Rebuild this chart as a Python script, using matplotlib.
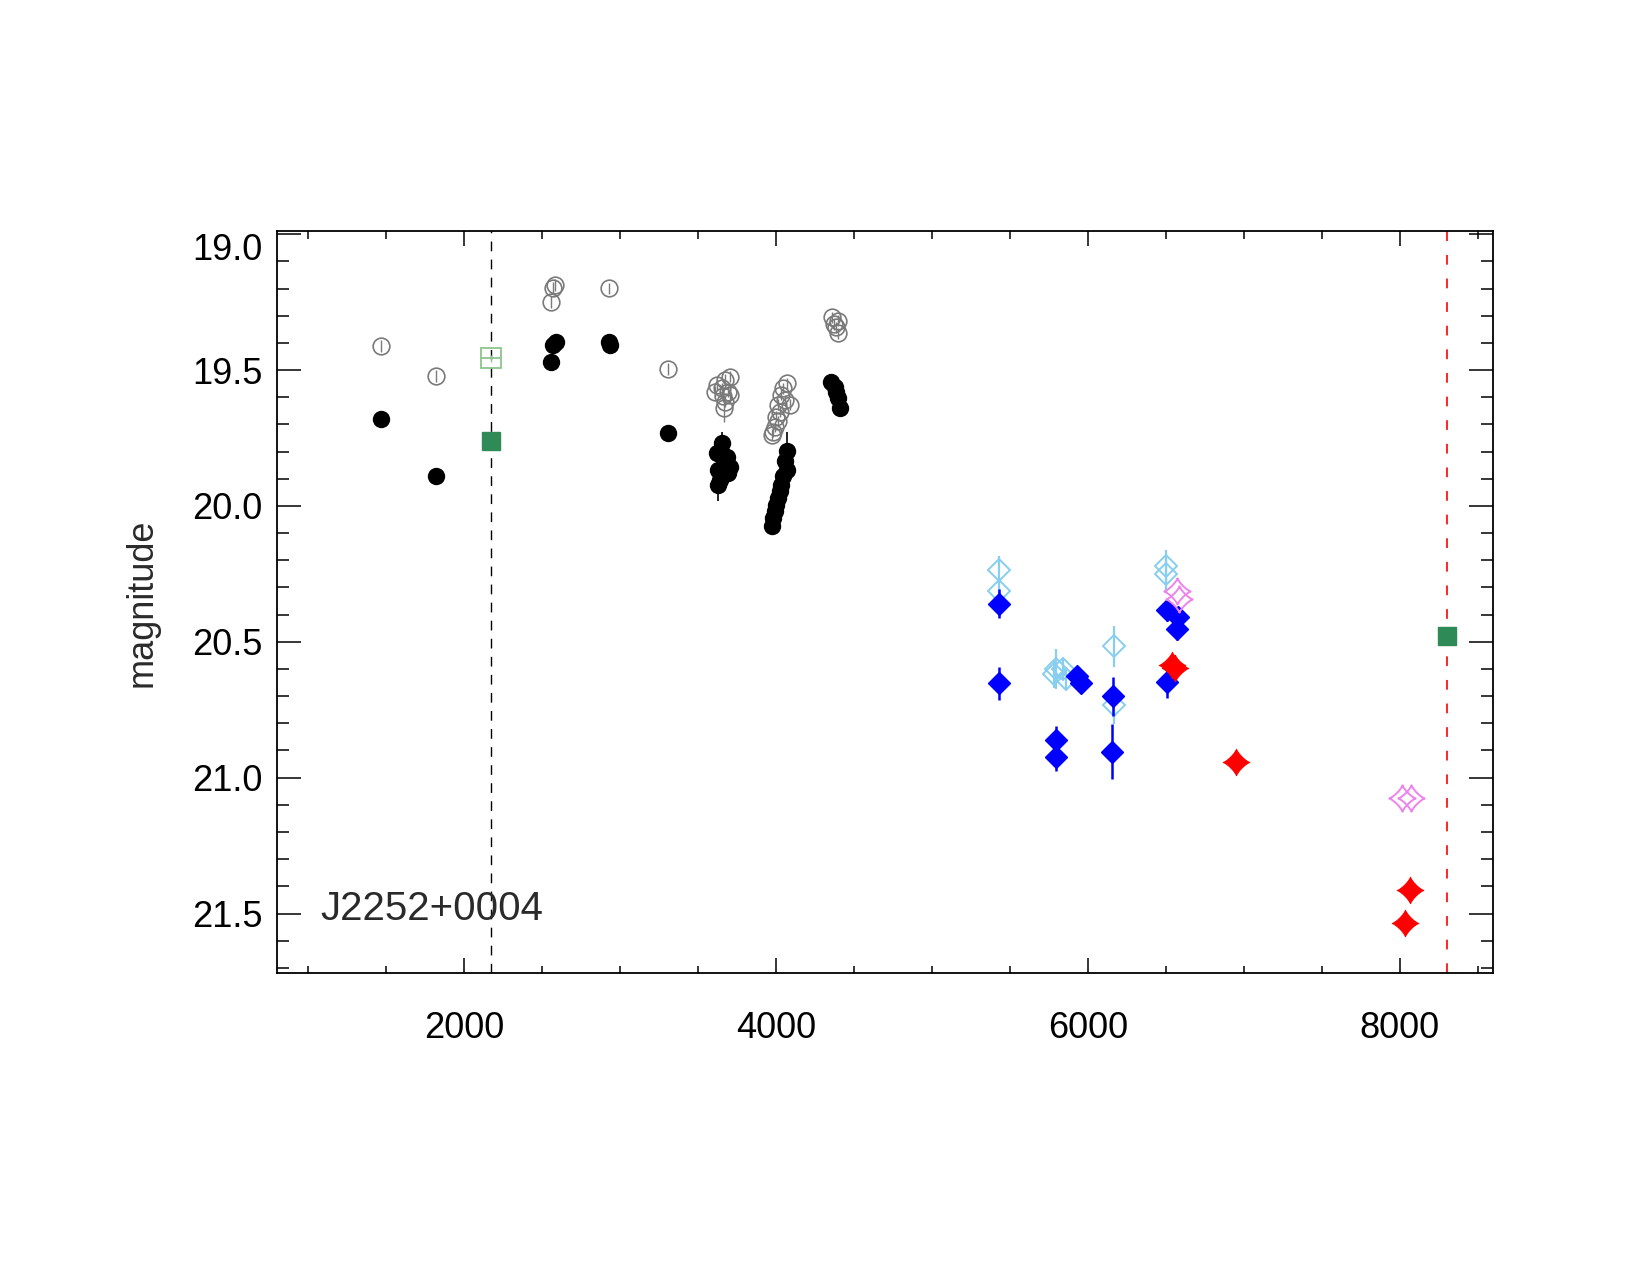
import numpy as np
import matplotlib
matplotlib.use("Agg")
import matplotlib.pyplot as plt
from matplotlib.path import Path
from matplotlib.ticker import MultipleLocator
from matplotlib.transforms import ScaledTranslation

plt.rcParams['font.family'] = ['Liberation Sans', 'DejaVu Sans']
plt.rcParams['lines.scale_dashes'] = False

# ---------------- data ----------------
# grey open circles (x, mag, err)
grey_x = [1468, 1819, 2559, 2571, 2583, 2931, 3311,
          3706, 3674, 3621, 3653, 3695, 3610, 3663, 3706, 3674, 3668,
          4069, 4047, 4036, 4058, 4090, 4015, 4026, 4004, 4015, 3994, 3983, 3973,
          4360, 4397, 4373, 4385, 4397]
grey_y = [19.41, 19.523, 19.248, 19.199, 19.186, 19.199, 19.495,
          19.524, 19.536, 19.555, 19.567, 19.579, 19.579, 19.597, 19.591, 19.616, 19.640,
          19.549, 19.567, 19.591, 19.610, 19.628, 19.628, 19.653, 19.671, 19.689, 19.708, 19.726, 19.738,
          19.306, 19.319, 19.331, 19.343, 19.365]
grey_e = [0.022, 0.022, 0.022, 0.022, 0.022, 0.02, 0.022,
          0.02, 0.02, 0.02, 0.02, 0.02, 0.02, 0.02, 0.02, 0.02, 0.05,
          0.02, 0.02, 0.02, 0.02, 0.02, 0.02, 0.02, 0.02, 0.02, 0.02, 0.02, 0.02,
          0.02, 0.02, 0.02, 0.02, 0.02]

# black filled circles
black_x = [1468, 1819, 2559, 2571, 2588, 2931, 2936, 3311,
           3653, 3621, 3685, 3706, 3631, 3695, 3642, 3631,
           4069, 4058, 4069, 4047, 4036, 4026, 4015, 4004, 3994, 3983, 3973,
           4357, 4378, 4389, 4400, 4411]
black_y = [19.68, 19.891, 19.472, 19.408, 19.395, 19.395, 19.407, 19.73,
           19.769, 19.806, 19.818, 19.855, 19.867, 19.879, 19.904, 19.922,
           19.799, 19.836, 19.867, 19.891, 19.922, 19.946, 19.971, 19.995, 20.020, 20.044, 20.075,
           19.542, 19.561, 19.579, 19.604, 19.640]
black_e = [0.01, 0.01, 0.01, 0.01, 0.01, 0.01, 0.01, 0.01,
           0.04, 0.02, 0.02, 0.02, 0.02, 0.02, 0.02, 0.06,
           0.07, 0.02, 0.02, 0.02, 0.02, 0.02, 0.02, 0.02, 0.02, 0.02, 0.02,
           0.02, 0.02, 0.02, 0.02, 0.02]

# green squares
gsq_open_x = [2176]
gsq_open_y = [19.457]
gsq_open_e = [0.012]
gsq_fill_x = [2176, 8306]
gsq_fill_y = [19.76, 20.478]

# blue filled diamonds
blue_x = [5429, 5429, 5794, 5794, 5933, 5958, 6161, 6154, 6507, 6577, 6573, 6511]
blue_y = [20.359, 20.652, 20.860, 20.925, 20.625, 20.650, 20.701, 20.904, 20.383, 20.407, 20.454, 20.647]
blue_e = [0.052, 0.061, 0.05, 0.05, 0.02, 0.02, 0.072, 0.10, 0.04, 0.03, 0.04, 0.058]

# light-blue open diamonds
lblue_x = [5429, 5429, 5794, 5781, 5841, 5862, 6166, 6166, 6502, 6502]
lblue_y = [20.234, 20.313, 20.600, 20.619, 20.600, 20.637, 20.517, 20.733, 20.221, 20.252]
lblue_e = [0.05, 0.05, 0.075, 0.05, 0.04, 0.04, 0.076, 0.07, 0.06, 0.06]

# violet open stars
viol_x = [6573, 6583, 8018, 8072]
viol_y = [20.313, 20.341, 21.075, 21.075]

# red filled stars
red_x = [6540, 6560, 6951, 8065, 8035]
red_y = [20.585, 20.595, 20.943, 21.413, 21.534]

# vertical reference lines
vline_black = 2176
vline_red = 8306

label_text = "J2252+0004"
xticks_major = [2000, 4000, 6000, 8000]
yticks_major = [19.0, 19.5, 20.0, 20.5, 21.0, 21.5]

# ---------------- star marker shape ----------------
t = np.linspace(0, 2 * np.pi, 200, endpoint=False)
c, s = np.cos(t), np.sin(t)
p = 2.5
verts = np.column_stack([np.sign(c) * np.abs(c) ** p, np.sign(s) * np.abs(s) ** p])
verts = np.vstack([verts, verts[:1]])
codes = [Path.MOVETO] + [Path.LINETO] * (len(verts) - 2) + [Path.CLOSEPOLY]
star = Path(verts, codes)

# ---------------- figure ----------------
fig = plt.figure(figsize=(16.5, 12.75), dpi=100)
ax = fig.add_axes([0.1677, 0.23663, 0.7373, 0.5822])

ax.axvline(vline_black, color='black', lw=1.0, dashes=(7, 6), zorder=1)
ax.axvline(vline_red, color='red', lw=1.2, dashes=(7, 10), zorder=1)

grey = '#7a7a7a'
ax.errorbar(grey_x, grey_y, yerr=grey_e, fmt='none', ecolor=grey, elinewidth=1.0, zorder=2)
ax.plot(grey_x, grey_y, 'o', ms=12, mfc='none', mec=grey, mew=1.2, zorder=2)

ax.errorbar(black_x, black_y, yerr=black_e, fmt='none', ecolor='black', elinewidth=1.2, zorder=3)
ax.plot(black_x, black_y, 'o', ms=11.5, mfc='black', mec='black', zorder=3)

lgreen = '#8cc58c'
ax.errorbar(gsq_open_x, gsq_open_y, yerr=gsq_open_e, fmt='none', ecolor=lgreen, elinewidth=1.0, zorder=3)
ax.plot(gsq_open_x, gsq_open_y, 's', ms=14, mfc='none', mec=lgreen, mew=1.3, zorder=3)
ax.plot(gsq_open_x, gsq_open_y, '_', ms=14, mec=lgreen, mew=1.3, zorder=3)
ax.plot(gsq_fill_x, gsq_fill_y, 's', ms=13.5, mfc='#2e8b57', mec='#2e8b57', zorder=4)

lblue = '#87cef0'
ax.errorbar(lblue_x, lblue_y, yerr=lblue_e, fmt='none', ecolor=lblue, elinewidth=1.6, zorder=4)
ax.plot(lblue_x, lblue_y, 'D', ms=11, mfc='none', mec=lblue, mew=1.4, zorder=4)

ax.errorbar(blue_x, blue_y, yerr=blue_e, fmt='none', ecolor='blue', elinewidth=1.8, zorder=5)
ax.plot(blue_x, blue_y, 'D', ms=11, mfc='blue', mec='blue', zorder=5)

ax.plot(viol_x, viol_y, marker=star, ls='none', ms=19, mfc='none', mec='violet', mew=1.4, zorder=6)
ax.plot(red_x, red_y, marker=star, ls='none', ms=19, mfc='red', mec='red', mew=0.8, zorder=6)

ax.text(1080, 21.525, label_text, fontsize=29, color='#2a2a2a', ha='left', va='baseline')

ax.set_xlim(800, 8600)
ax.set_ylim(21.72, 18.988)

ax.set_xticks(xticks_major)
ax.set_xticklabels([str(v) for v in xticks_major])
ax.xaxis.set_minor_locator(MultipleLocator(500))
ax.set_yticks(yticks_major)
ax.set_yticklabels(["%.1f" % v for v in yticks_major])
ax.yaxis.set_minor_locator(MultipleLocator(0.1))

for sp in ax.spines.values():
    sp.set_linewidth(1.3)

ax.tick_params(axis='both', which='both', direction='in', top=True, right=True,
               width=1.1, labelsize=26, colors='black')
ax.tick_params(axis='x', which='major', length=10.8, pad=27)
ax.tick_params(axis='x', which='minor', length=5.4)
ax.tick_params(axis='y', which='major', length=17.3, pad=10)
ax.tick_params(axis='y', which='minor', length=8.6)

# shift the top y label down (as in the reference)
fig.canvas.draw()
lab0 = ax.get_yticklabels()[0]
lab0.set_transform(lab0.get_transform() + ScaledTranslation(0, -12 / 100, fig.dpi_scale_trans))

fig.text(142 / 1650, 1 - 603 / 1275, "magnitude", rotation=90, fontsize=26,
         color='#2a2a2a', ha='center', va='center')

fig.savefig("out.png", dpi=100, facecolor='white')
